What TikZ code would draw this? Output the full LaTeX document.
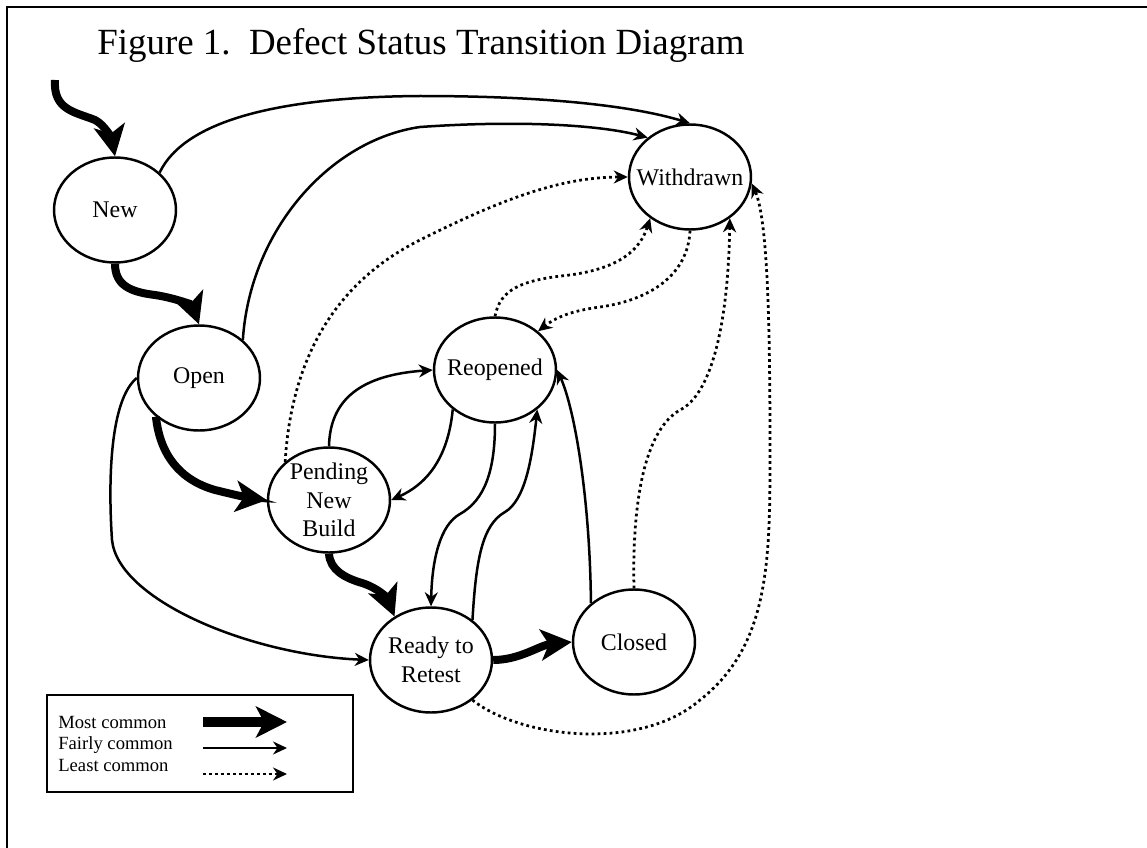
\documentclass[tikz,border=0pt]{standalone}
\usepackage{fontspec}
\setmainfont{Liberation Serif}
\usetikzlibrary{shapes.geometric,arrows.meta}

\begin{document}
\begin{tikzpicture}[x=0.02cm,y=-0.02cm,
		statenode/.style={draw,ellipse,line width=1.4pt,minimum width=2.44cm,minimum height=2.1cm,inner sep=-6pt,align=center,font=\fontsize{13.6}{16.4}\selectfont},
		mostarr/.style={line width=0.16cm,-{Stealth[length=0.62cm,width=0.62cm,inset=0.16cm]}},
		fairarr/.style={line width=0.05cm,-{Stealth[length=0.28cm,width=0.26cm]}},
		leastarr/.style={fairarr,line width=0.055cm,dash pattern=on 0.055cm off 0.065cm},
		legendtext/.style={anchor=base west,inner sep=0,font=\fontsize{10.6}{12}\selectfont}]
				\useasboundingbox (0,0) rectangle (1147,848);
				
				% Frame
				\draw[line width=1.3pt] (7,848) -- (7,7) -- (1147,7);
				
				% Title
				\node[anchor=base west,inner sep=0,font=\fontsize{21}{25}\selectfont] (title) at (97,55) {Figure 1.\ \ Defect Status Transition Diagram};
				
				% States
				\node[statenode] (new) at (115,210) {New};
				\node[statenode] (open) at (199,378) {Open};
				\node[statenode] (pending) at (329,500) {Pending\\New\\Build};
				\node[statenode] (reopened) at (495,370) {Reopened};
				\node[statenode] (withdrawn) at (690,177) {Withdrawn};
				\node[statenode] (ready) at (431,660) {Ready to\\Retest};
				\node[statenode] (closed) at (634,642) {Closed};
				
				% Most common
				\coordinate (start) at (55,80);
				\draw[mostarr] (start) .. controls (53,110) and (75,112) .. (95,120) .. controls (105,125) and (112,140) .. (new.north);
				\draw[mostarr] (new.south) .. controls (115,285) and (130,292) .. (155,295) .. controls (175,298) and (192,305) .. (open.north);
				\draw[mostarr] (open.222) .. controls (160,455) and (180,480) .. (215,490) .. controls (235,495) and (250,498) .. (pending.west);
				\draw[mostarr] (pending.south) .. controls (330,570) and (345,578) .. (362,583) .. controls (378,588) and (387,598) .. (ready.130);
				\draw[mostarr] (ready.east) .. controls (520,660) and (540,645) .. (closed.west);
				
				% Fairly common
				\draw[fairarr] (new.40) .. controls (185,120) and (280,97) .. (420,96) .. controls (560,96) and (640,108) .. (withdrawn.north);
				\draw[fairarr] (open.41) .. controls (250,230) and (330,140) .. (420,127) .. controls (520,120) and (600,125) .. (withdrawn.137);
				\draw[fairarr] (open.west) .. controls (110,400) and (108,480) .. (112,540) .. controls (118,600) and (250,655) .. (ready.west);
				\draw[fairarr] (pending.north) .. controls (330,400) and (360,375) .. (reopened.west);
				\draw[fairarr] (reopened.223) .. controls (448,460) and (425,485) .. (pending.east);
				\draw[fairarr] (reopened.south) .. controls (495,470) and (485,500) .. (460,514) .. controls (440,525) and (432,560) .. (ready.north);
				\draw[fairarr] (ready.44) .. controls (476,560) and (482,525) .. (505,512) .. controls (525,500) and (532,460) .. (reopened.317);
				\draw[fairarr] (closed.138) .. controls (590,500) and (575,410) .. (reopened.east);
				
				% Least common
				\draw[leastarr] (pending.139) .. controls (290,380) and (320,290) .. (420,240) .. controls (500,200) and (560,177) .. (withdrawn.west);
				\draw[leastarr] (reopened.north) .. controls (500,290) and (520,280) .. (570,275) .. controls (620,268) and (640,250) .. (withdrawn.226);
				\draw[leastarr] (withdrawn.south) .. controls (688,275) and (650,300) .. (600,307) .. controls (570,311) and (555,318) .. (reopened.42);
				\draw[leastarr] (closed.north) .. controls (632,500) and (645,430) .. (680,410) .. controls (710,395) and (728,330) .. (withdrawn.314);
				\draw[leastarr] (ready.316) .. controls (520,738) and (640,752) .. (700,700) .. controls (770,645) and (770,560) .. (770,450) .. controls (770,330) and (768,220) .. (withdrawn.354);
				
				% Legend
				\draw[line width=0.6pt] (47,695) rectangle (353,792);
				\node[legendtext] (lmost) at (58,728) {Most common};
				\node[legendtext] (lfair) at (58,749) {Fairly common};
				\node[legendtext] (lleast) at (58,771) {Least common};
				\coordinate (m1) at (203,722);
				\coordinate (m2) at (287,722);
				\coordinate (f1) at (203,748);
				\coordinate (f2) at (287,748);
				\coordinate (l1) at (203,774);
				\coordinate (l2) at (287,774);
				\draw[mostarr,line width=0.2cm] (m1) -- (m2);
				\draw[fairarr] (f1) -- (f2);
				\draw[leastarr] (l1) -- (l2);
			\end{tikzpicture}
\end{document}
